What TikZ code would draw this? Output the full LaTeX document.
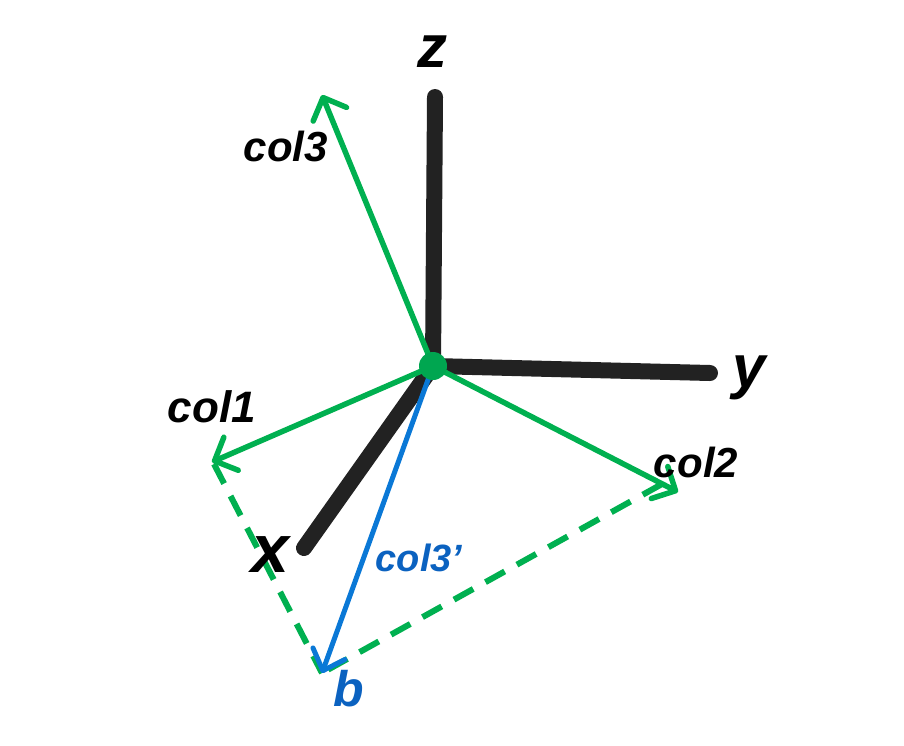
\documentclass[tikz,border=0pt]{standalone}
\usepackage{fontspec}
\setmainfont{Liberation Sans}
\usetikzlibrary{arrows.meta}
\definecolor{axisblack}{HTML}{222222}
\definecolor{vgreen}{HTML}{00B050}
\definecolor{dotgreen}{HTML}{00A650}
\definecolor{vblue}{HTML}{0A78D6}
\definecolor{tblue}{HTML}{0B62C0}
\tikzset{
  axisline/.style={line width=16pt, line cap=round, color=axisblack},
  vec/.style={line width=5.5pt, color=vgreen, -{Straight Barb[length=18pt,width=36pt,line cap=round,line join=round]}},
  bvec/.style={line width=5pt, color=vblue, -{Straight Barb[length=18pt,width=34pt,line cap=round,line join=round]}},
  dashline/.style={line width=6pt, color=vgreen, dash pattern=on 22pt off 14pt},
  axlabel/.style={font=\fontsize{60}{60}\selectfont\bfseries\itshape, text=black, inner sep=0pt},
  collabel/.style={font=\fontsize{42}{42}\selectfont\bfseries\itshape, text=black, inner sep=0pt},
}
\begin{document}
\begin{tikzpicture}[x=1pt,y=-1pt]
\useasboundingbox (0,0) rectangle (904,745);
\coordinate (O) at (433,366);
\coordinate (zend) at (435,97);
\coordinate (yend) at (710,373);
\coordinate (xend) at (304,548);
\coordinate (c3) at (322,95);
\coordinate (c1) at (212,462);
\coordinate (c2) at (678,492);
\coordinate (bt) at (322,673);
\coordinate (c2d) at (662,484);
\coordinate (c1d) at (214,464);
% axes
\draw[axisline] (O) -- (zend);
\draw[axisline] (O) -- (yend);
\draw[axisline] (O) -- (xend);
% dashed
\draw[dashline] (c1d) -- (bt);
\draw[dashline] (c2d) -- (bt);
% vectors
\draw[vec] (O) -- (c3);
\draw[vec] (O) -- (c1);
\draw[vec] (O) -- (c2);
\draw[bvec] (O) -- (bt);
\fill[dotgreen] (O) circle (14);
% labels
\node[axlabel] (zl) at (432,52) {z};
\node[axlabel] (yl) at (749,378) {y};
\node[axlabel, font=\fontsize{68}{68}\selectfont\bfseries\itshape] (xl) at (270,555) {x};
\node[collabel] (l3) at (286,146) {col3};
\node[collabel, font=\fontsize{44}{44}\selectfont\bfseries\itshape] (l1) at (212,407) {col1};
\node[collabel] (l2) at (696,462) {col2};
\node[collabel, text=tblue, font=\fontsize{38}{38}\selectfont\bfseries\itshape] (l3p) at (419,558) {col3’};
\node[collabel, text=tblue, font=\fontsize{50}{50}\selectfont\bfseries\itshape] (lb) at (349,689) {b};
\end{tikzpicture}
\end{document}
